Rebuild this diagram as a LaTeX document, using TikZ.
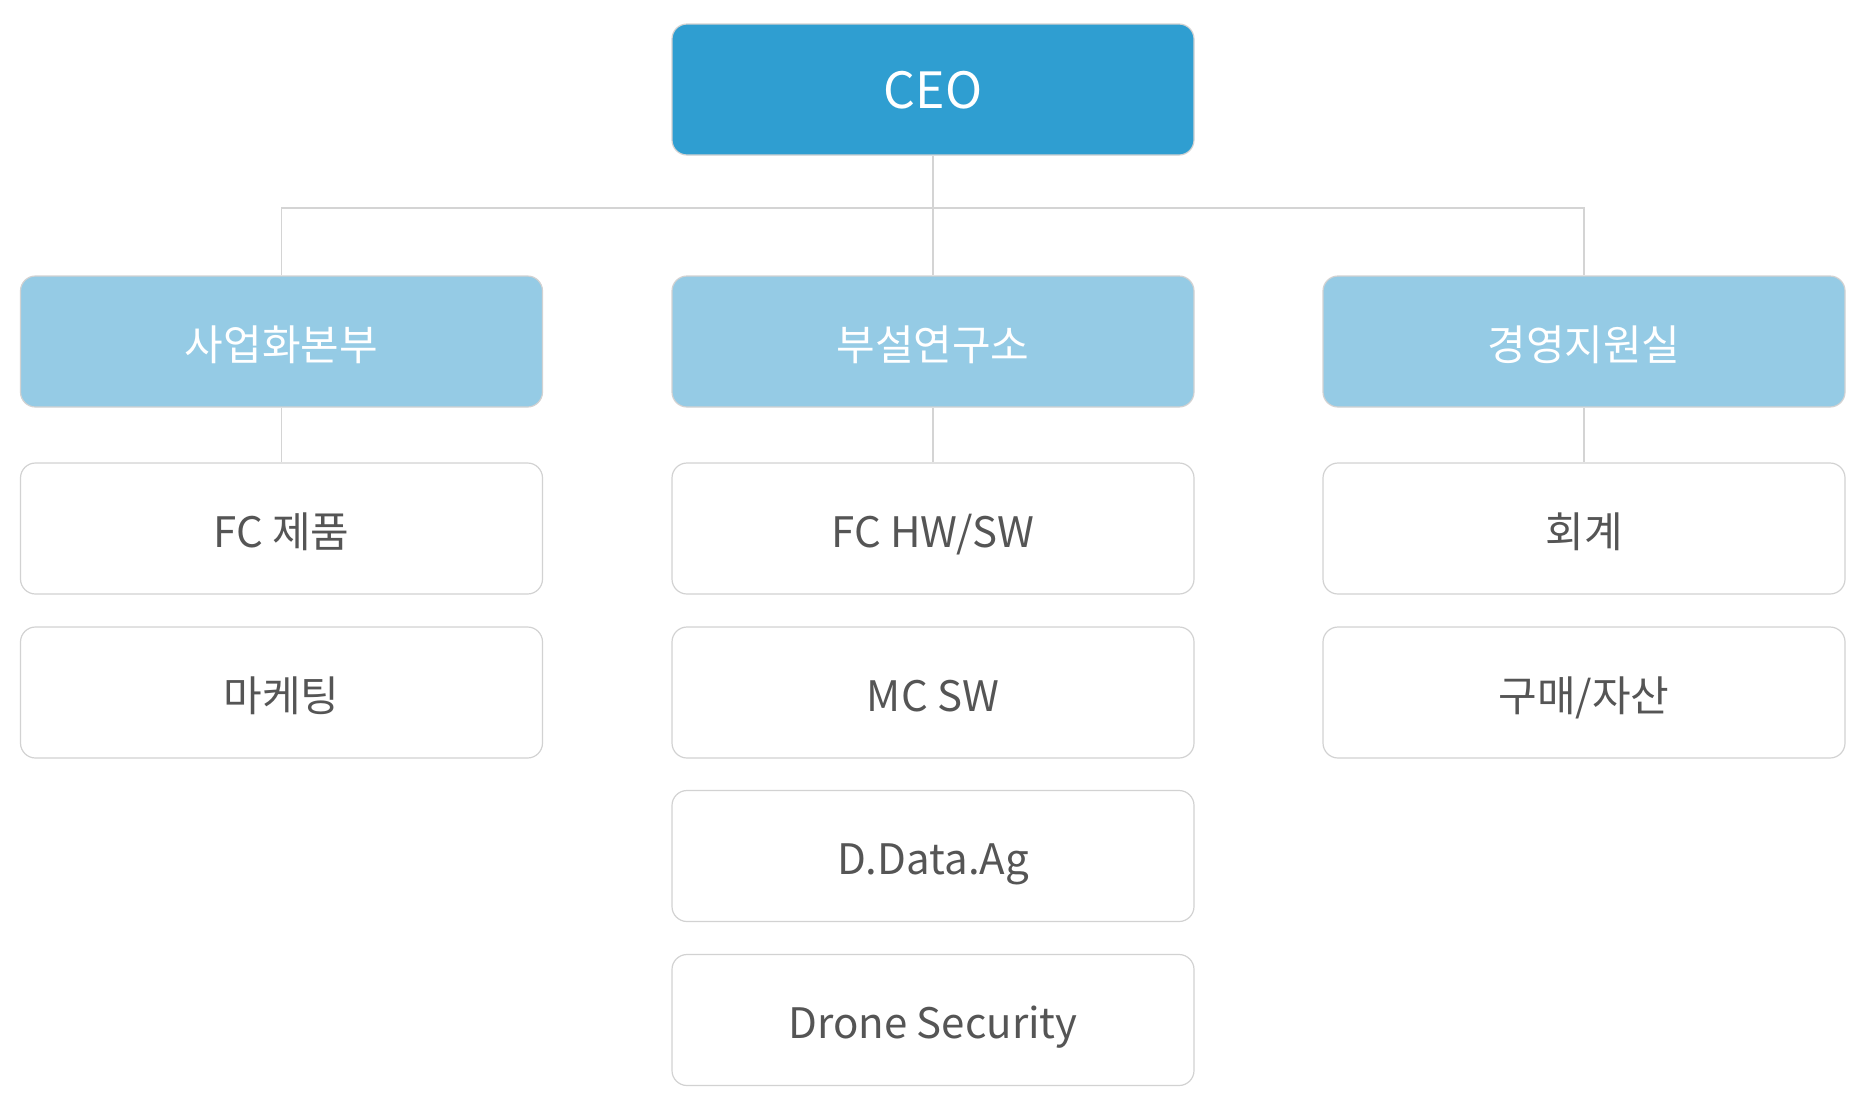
\documentclass[tikz,border=0pt]{standalone}
\usepackage{fontspec}
\newfontfamily\kr{Noto Sans CJK KR}
\definecolor{ceoblue}{HTML}{2F9ED1}
\definecolor{divblue}{HTML}{95CBE5}
\definecolor{boxline}{HTML}{D2D2D2}
\definecolor{linkline}{HTML}{D4D4D4}
\definecolor{txtgray}{HTML}{555555}
\begin{document}
\begin{tikzpicture}[x=1pt,y=-1pt,
  basebox/.style={rounded corners=15pt, minimum width=522pt, minimum height=131pt,
    inner sep=0pt, text height=37pt, text depth=0pt, draw=boxline, line width=1.2pt,
    font=\kr\fontsize{42}{50}\selectfont},
  ceobox/.style={basebox, fill=ceoblue, text=white, font=\kr\fontsize{50}{60}\selectfont},
  divbox/.style={basebox, fill=divblue, text=white, text height=38pt},
  unitbox/.style={basebox, fill=white, text=txtgray},
  link/.style={draw=linkline, line width=1.2pt}]
\useasboundingbox (0,0) rectangle (1865,1109);
\node[ceobox] (ceo) at (933,89.5) {CEO};
\node[divbox] (d1) at (281.5,341.5) {사업화본부};
\node[divbox] (d2) at (933,341.5) {부설연구소};
\node[divbox] (d3) at (1584,341.5) {경영지원실};
\node[unitbox] (u11) at (281.5,528.5) {FC 제품};
\node[unitbox] (u12) at (281.5,692.5) {마케팅};
\node[unitbox] (u21) at (933,528.5) {FC HW/SW};
\node[unitbox] (u22) at (933,692.5) {MC SW};
\node[unitbox] (u23) at (933,856) {D.Data.Ag};
\node[unitbox] (u24) at (933,1020) {Drone Security};
\node[unitbox] (u31) at (1584,528.5) {회계};
\node[unitbox] (u32) at (1584,692.5) {구매/자산};
\coordinate (bus) at (933,208);
\draw[link] (ceo.south) -- (d2.north);
\draw[link] (d1.north) |- (bus) -| (d3.north);
\draw[link] (d1.south) -- (u11.north);
\draw[link] (d2.south) -- (u21.north);
\draw[link] (d3.south) -- (u31.north);
\end{tikzpicture}
\end{document}
